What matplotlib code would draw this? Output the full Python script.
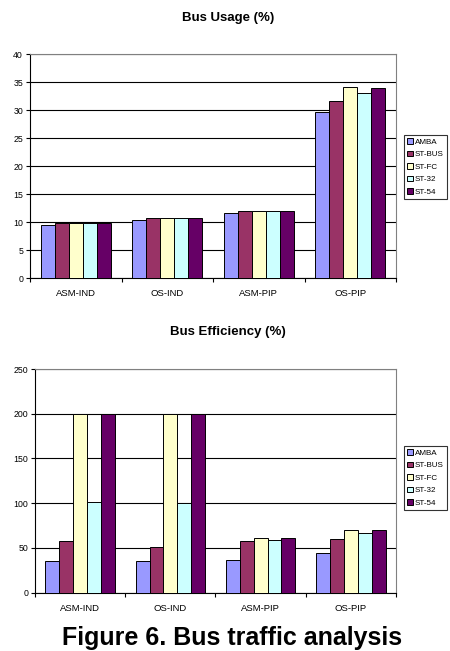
import matplotlib
matplotlib.use("Agg")
import matplotlib.pyplot as plt
import numpy as np

plt.rcParams['font.family'] = ['Liberation Sans', 'DejaVu Sans']

categories = ["ASM-IND", "OS-IND", "ASM-PIP", "OS-PIP"]
series = ["AMBA", "ST-BUS", "ST-FC", "ST-32", "ST-54"]
colors = ["#9999FF", "#993366", "#FFFFCC", "#CCFFFF", "#660066"]

# Bus usage (%) per series, one value per category
usage_amba = [9.5, 10.35, 11.6, 29.7]
usage_stbus = [9.8, 10.7, 12.0, 31.7]
usage_stfc = [9.9, 10.7, 12.0, 34.1]
usage_st32 = [9.9, 10.7, 12.0, 33.0]
usage_st54 = [9.9, 10.7, 12.0, 33.9]

# Bus efficiency (%) per series, one value per category
eff_amba = [35, 35, 36, 44]
eff_stbus = [58, 51, 58, 60]
eff_stfc = [200, 200, 61, 70]
eff_st32 = [101, 100, 58.5, 67]
eff_st54 = [200, 200, 61, 70]

usage_ticks = [0, 5, 10, 15, 20, 25, 30, 35, 40]
eff_ticks = [0, 50, 100, 150, 200, 250]

W, H = 450, 651
fig = plt.figure(figsize=(W / 100, H / 100), dpi=100)


def px_axes(left, top, right, bottom):
    return fig.add_axes([left / W, 1 - bottom / H, (right - left) / W, (bottom - top) / H])


def draw_panel(ax, data, ticks, title, title_y):
    n = len(series)
    x = np.arange(len(categories))
    group = 0.77
    bw = group / n
    for i, (vals, c) in enumerate(zip(data, colors)):
        ax.bar(x - group / 2 + bw * (i + 0.5), vals, width=bw, color=c,
               edgecolor="black", linewidth=0.7, label=series[i], zorder=3)
    ax.set_xlim(-0.5, len(categories) - 0.5)
    ax.set_ylim(ticks[0], ticks[-1])
    ax.set_yticks(ticks)
    ax.set_yticklabels([str(t) for t in ticks], fontsize=6.3)
    ax.yaxis.grid(True, color="black", linewidth=0.8, zorder=1)
    ax.set_axisbelow(True)
    # category labels sit between the boundary ticks
    ax.set_xticks(np.arange(len(categories) + 1) - 0.5)
    ax.set_xticklabels([])
    ax.set_xticks(x, minor=True)
    ax.set_xticklabels(categories, minor=True, fontsize=6.8)
    ax.tick_params(axis="x", which="minor", length=0, pad=8)
    ax.tick_params(axis="x", which="major", length=3, width=0.8, direction="out")
    ax.tick_params(axis="y", length=3, width=0.8, direction="out", pad=2)
    ax.spines["left"].set_color("black")
    ax.spines["bottom"].set_color("black")
    ax.spines["top"].set_color("#808080")
    ax.spines["right"].set_color("#808080")
    for s in ax.spines.values():
        s.set_linewidth(0.8)
    fig.text(228 / W, 1 - title_y / H, title, ha="center", va="center",
             fontsize=9.5, fontweight="bold")


ax1 = px_axes(30, 54.3, 396, 278.3)
draw_panel(ax1, [usage_amba, usage_stbus, usage_stfc, usage_st32, usage_st54],
           usage_ticks, "Bus Usage (%)", 18)

ax2 = px_axes(35, 369, 396, 592.7)
draw_panel(ax2, [eff_amba, eff_stbus, eff_stfc, eff_st32, eff_st54],
           eff_ticks, "Bus Efficiency (%)", 332)

for ax, top in ((ax1, 135), (ax2, 446)):
    handles, labels = ax.get_legend_handles_labels()
    leg = fig.legend(handles, labels, loc="upper left",
                     bbox_to_anchor=(404 / W, 1 - top / H), borderaxespad=0,
                     fontsize=5.8, frameon=True, fancybox=False, shadow=False,
                     handlelength=0.7, handleheight=0.7, handletextpad=0.25,
                     labelspacing=0.6, borderpad=0.4)
    leg.get_frame().set_edgecolor("black")
    leg.get_frame().set_linewidth(0.8)

fig.text(232 / W, 1 - 645 / H, "Figure 6. Bus traffic analysis", ha="center",
         va="baseline", fontsize=18, fontweight="bold")

fig.savefig("out.png", dpi=100)
